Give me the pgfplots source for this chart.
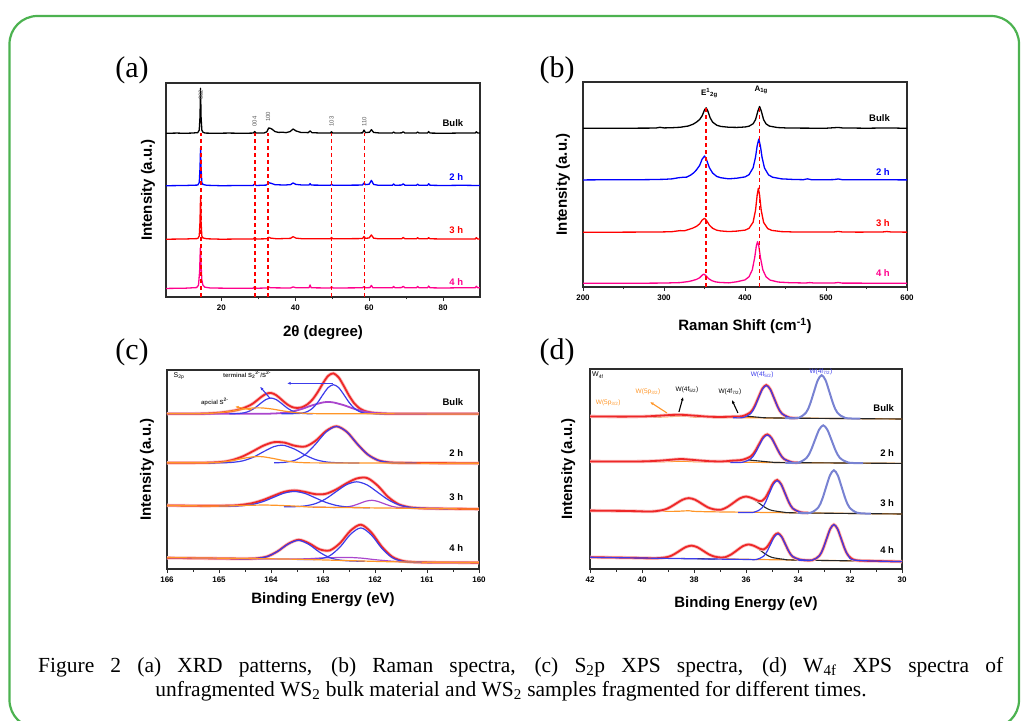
\documentclass[border=0pt]{standalone}
\usepackage{fontspec}
\setmainfont{Liberation Serif}
\newfontfamily\sansf{Liberation Sans}
\usepackage{pgfplots}
\pgfplotsset{compat=1.18}
\usetikzlibrary{arrows.meta}

\definecolor{boxgreen}{RGB}{76,178,80}
\definecolor{frame}{RGB}{45,45,45}
\definecolor{cblue}{RGB}{0,0,255}
\definecolor{cred}{RGB}{255,0,0}
\definecolor{cpink}{RGB}{255,0,140}
\definecolor{xred}{RGB}{238,40,40}
\definecolor{xblue}{RGB}{60,60,235}
\definecolor{xpurple}{RGB}{170,70,205}
\definecolor{xorange}{RGB}{255,150,40}
\definecolor{xlav}{RGB}{120,130,210}

\pgfplotsset{
  panel/.style={
    scale only axis, anchor=south west,
    ymin=0, ymax=100, ytick=\empty,
    xtick pos=bottom, tick align=outside,
    major tick length=4pt, minor tick length=2.5pt,
    minor x tick num=1,
    axis line style={line width=1.3pt, draw=frame},
    tick style={line width=0.9pt, draw=frame},
    /pgf/number format/assume math mode=true,
    tick label style={font=\sansf\bfseries\fontsize{8}{8}\selectfont},
    label style={font=\sansf\bfseries\fontsize{15}{16}\selectfont},
    ylabel={Intensity (a.u.)},
  },
  sp/.style={line width=1.3pt, line join=round},
  rdash/.style={cred, line width=1.7pt, dash pattern=on 4pt off 3pt},
  xr/.style={xred, line width=1.8pt, smooth, preaction={draw=xred!30, line width=3.4pt}},
  xb/.style={xblue, line width=1.2pt, smooth},
  xp/.style={xpurple, line width=1.2pt, smooth},
  xo/.style={xorange, line width=1.2pt, smooth},
  xk/.style={black!85, line width=1.1pt, smooth},
  xl/.style={xlav, line width=2pt, smooth},
}
\tikzset{
  lab/.style={font=\sansf\bfseries\fontsize{9.5}{10}\selectfont, anchor=east, inner sep=0pt},
  note/.style={font=\sansf\fontsize{6.5}{7}\selectfont, inner sep=0pt},
  arr/.style={line width=1.1pt, -{Latex[length=3.5pt,width=3pt]}},
}

\begin{document}
\begin{tikzpicture}
\useasboundingbox (0pt,0pt) rectangle (1024pt,720pt);
\draw[boxgreen, line width=2.2pt, rounded corners=28pt] (9.5pt,-8pt) rectangle (1019pt,704pt);

\node[font=\fontsize{30}{30}\selectfont] at (132pt,650pt) {(a)};
\node[font=\fontsize{30}{30}\selectfont] at (557pt,650pt) {(b)};
\node[font=\fontsize{30}{30}\selectfont] at (132pt,368pt) {(c)};
\node[font=\fontsize{30}{30}\selectfont] at (557pt,368pt) {(d)};

% ---------------- (a) XRD
\begin{axis}[panel, at={(166pt,423pt)}, width=314pt, height=214pt,
  xmin=5, xmax=90, xtick={20,40,60,80},
  xlabel={2θ (degree)},
  xlabel style={at={(axis description cs:0.5,-0.168)}, anchor=center},
  ylabel style={at={(axis description cs:-0.057,0.5)}, anchor=center}]
\addplot[sp, black] coordinates {(5,76.5)(8,76.6)(10,76.5)(12,76.6)(13.6,76.8)(14.0,78)(14.2,84)(14.35,97.5)(14.5,84)(14.7,78)(15.0,77)(15.6,76.6)(18,76.5)(22,76.6)(26,76.5)(28.6,76.6)(29.0,77.3)(29.4,76.6)(31.5,76.6)(32.3,77.2)(32.8,79.0)(33.3,78.8)(33.8,78.3)(34.5,77.3)(35.5,76.9)(36.5,77.0)(37.5,76.8)(38.6,77.3)(39.4,78.5)(40.2,77.6)(41.5,76.9)(43.5,76.8)(44.0,77.6)(44.5,76.8)(47,76.6)(49.5,76.6)(49.8,77.2)(50.1,76.6)(53,76.6)(56,76.6)(58.2,76.7)(58.6,78.0)(59.0,76.8)(60.1,77.0)(60.6,78.2)(61.2,76.9)(63,76.6)(66.3,76.6)(66.6,77.1)(67,76.6)(68.8,76.7)(69.2,77.2)(69.7,76.6)(72.8,76.6)(73.1,77.1)(73.5,76.6)(75.8,76.6)(76.1,77.3)(76.5,76.6)(80,76.5)(84,76.6)(88.7,76.6)(89.0,77.2)(89.4,76.6)(90,76.6)};
\addplot[sp, cblue] coordinates {(5,52)(10,52.1)(13.6,52.3)(14.0,53.5)(14.2,60)(14.35,69.6)(14.5,60)(14.7,53.5)(15.0,52.6)(16,52.2)(20,52)(25,52.1)(28.6,52.1)(29.0,52.9)(29.4,52.1)(32.2,52.3)(32.8,53.4)(33.5,53.1)(34.5,52.5)(37,52.3)(38.7,52.5)(39.4,53.3)(40.2,52.6)(42,52.3)(43.7,52.3)(44.0,53.0)(44.3,52.3)(49.5,52.2)(49.8,52.7)(50.2,52.2)(58.2,52.3)(58.6,53.3)(59.0,52.5)(60.0,52.7)(60.6,54.5)(61.2,52.6)(62.5,52.2)(66.3,52.2)(66.6,52.8)(67,52.2)(68.8,52.3)(69.2,52.9)(69.7,52.2)(72.8,52.2)(73.1,52.7)(73.5,52.2)(75.8,52.2)(76.1,52.9)(76.5,52.2)(80,52.1)(85,52.2)(90,52.1)};
\addplot[sp, cred] coordinates {(5,27)(10,27.1)(13.6,27.3)(14.0,28.5)(14.2,35)(14.35,46.9)(14.5,35)(14.7,28.5)(15.0,27.6)(16,27.2)(20,27)(25,27.1)(28.6,27.1)(29.0,27.8)(29.4,27.1)(32.3,27.2)(32.8,27.9)(33.4,27.5)(35,27.2)(38.7,27.4)(39.4,28.2)(40.2,27.5)(42,27.2)(49.5,27.2)(49.8,27.8)(50.2,27.2)(58.2,27.3)(58.6,28.3)(59.0,27.4)(60.0,27.6)(60.6,29.0)(61.2,27.5)(62.5,27.2)(68.8,27.2)(69.2,27.8)(69.7,27.2)(72.8,27.2)(73.1,27.7)(73.5,27.2)(75.8,27.2)(76.1,27.7)(76.5,27.2)(80,27.1)(88.7,27.1)(89.0,27.7)(89.4,27.1)(90,27.1)};
\addplot[sp, cpink] coordinates {(5,4)(10,4.1)(13.3,4.4)(13.8,5.5)(14.1,12)(14.3,22.9)(14.5,15)(14.7,8)(15.0,5.5)(15.5,4.6)(17,4.2)(22,4.1)(28.6,4.1)(29.0,4.8)(29.4,4.1)(32.4,4.2)(32.8,4.7)(33.3,4.3)(38.7,4.2)(39.4,4.7)(40.2,4.3)(43.7,4.3)(44.0,5.6)(44.3,4.3)(49.5,4.2)(49.8,4.8)(50.2,4.2)(58.2,4.3)(58.6,4.9)(59.0,4.3)(60.2,4.4)(60.6,5.4)(61.0,4.3)(66.3,4.3)(66.6,4.9)(67,4.3)(68.8,4.4)(69.2,5.0)(69.7,4.3)(72.8,4.3)(73.1,4.9)(73.5,4.3)(75.8,4.3)(76.1,5.1)(76.5,4.3)(80,4.2)(84,4.3)(88.7,4.3)(89.0,5.0)(89.4,4.3)(90,4.3)};
\addplot[rdash] coordinates {(14.4,0)(14.4,76.5)};
\addplot[rdash] coordinates {(29.0,0)(29.0,76.5)};
\addplot[rdash] coordinates {(32.6,0)(32.6,76.5)};
\addplot[rdash] coordinates {(49.8,0)(49.8,76.5)};
\addplot[rdash] coordinates {(58.7,0)(58.7,76.5)};
\node[lab, black] at (axis cs:85.5,81.3) {Bulk};
\node[lab, cblue] at (axis cs:85.5,56.1) {2 h};
\node[lab, cred] at (axis cs:85.5,31.3) {3 h};
\node[lab, cpink] at (axis cs:85.5,7.0) {4 h};
\node[note, black!65, font=\sansf\fontsize{6}{6}\selectfont, rotate=90, anchor=west] at (axis cs:14.4,92) {002};
\node[note, black!65, font=\sansf\fontsize{6}{6}\selectfont, rotate=90, anchor=west] at (axis cs:29.0,79.5) {004};
\node[note, black!65, font=\sansf\fontsize{6}{6}\selectfont, rotate=90, anchor=west] at (axis cs:32.6,81.8) {100};
\node[note, black!65, font=\sansf\fontsize{6}{6}\selectfont, rotate=90, anchor=west] at (axis cs:49.8,79.5) {103};
\node[note, black!65, font=\sansf\fontsize{6}{6}\selectfont, rotate=90, anchor=west] at (axis cs:58.7,79.5) {110};
\end{axis}

% ---------------- (b) Raman
\begin{axis}[panel, at={(583pt,433pt)}, width=324pt, height=205pt,
  xmin=200, xmax=600, xtick={200,300,400,500,600},
  xlabel={Raman Shift (cm\textsuperscript{-1})},
  xlabel style={at={(axis description cs:0.5,-0.189)}, anchor=center},
  ylabel style={at={(axis description cs:-0.062,0.5)}, anchor=center}]
\addplot[sp, black] coordinates {(200,77.42)(240,77.45)(280,77.5)(290,77.55)(295,77.9)(300,77.6)(310,77.7)(320,77.92)(330,78.53)(336,79.43)(340,80.4)(344,81.7)(347,83.45)(350,86.37)(352,87.4)(354,85.97)(357,82.5)(360,80.44)(365,78.93)(370,78.33)(380,77.92)(390,77.84)(400,78.05)(405,78.44)(410,79.62)(413,81.64)(416,85.96)(418,88.07)(420,85.94)(423,81.59)(426,79.57)(430,78.5)(440,77.78)(450,77.6)(470,77.5)(500,77.45)(510,77.7)(515,77.85)(520,77.6)(550,77.45)(578,77.6)(600,77.4)};
\addplot[sp, cblue] coordinates {(200,52.23)(230,52.3)(260,52.33)(280,52.37)(300,52.52)(310,52.75)(318,53.3)(323,53.5)(328,53.6)(333,54.6)(337,55.8)(340,57.1)(344,59.3)(347,62.3)(350,63.9)(352,62.6)(354,60.4)(356,58.2)(360,55.6)(365,53.95)(370,53.3)(380,52.76)(390,53.08)(400,53.7)(405,54.8)(410,58.14)(413,63.4)(415,68.85)(417,72.13)(419,68.8)(421,63.35)(424,58.1)(429,54.7)(434,53.55)(445,52.75)(460,52.45)(472,52.35)(477,52.75)(482,52.35)(500,52.3)(510,52.4)(515,52.7)(520,52.35)(545,52.28)(565,52.3)(580,52.35)(590,52.25)(600,52.25)};
\addplot[sp, cred] coordinates {(200,26.72)(240,26.74)(280,26.8)(300,26.88)(310,27.0)(316,27.3)(320,27.5)(325,27.4)(330,28.0)(335,28.64)(340,29.56)(344,30.8)(347,32.6)(350,33.5)(352,32.75)(354,31.46)(356,30.17)(360,28.67)(365,27.7)(370,27.35)(380,27.03)(390,27.27)(400,27.74)(405,28.61)(410,31.6)(413,37.5)(415,44.8)(416.5,48.2)(418,44.8)(420,37.4)(423,31.5)(428,28.5)(433,27.62)(445,27.02)(460,26.84)(480,26.8)(510,26.85)(515,27.1)(520,26.85)(540,26.76)(570,26.85)(575,27.05)(580,26.85)(600,26.75)};
\addplot[sp, cpink] coordinates {(200,1.81)(240,1.83)(280,1.87)(300,1.92)(320,2.15)(330,2.65)(335,3.1)(340,3.7)(344,4.5)(347,5.7)(349,6.3)(351,5.8)(353,4.95)(355,4.1)(359,3.1)(364,2.46)(369,2.23)(380,2.02)(390,2.55)(400,3.47)(405,5.0)(409,8.37)(412,14.45)(414,20.07)(415.5,22.1)(417,20.07)(419,14.45)(422,8.37)(426,4.95)(431,3.37)(441,2.41)(455,2.1)(475,1.95)(480,2.15)(485,1.95)(510,1.95)(515,2.2)(520,1.9)(550,1.87)(580,1.86)(600,1.85)};
\addplot[rdash] coordinates {(352,0)(352,88)};
\addplot[rdash] coordinates {(418,0)(418,88)};
\node[lab, black] at (axis cs:579,82.3) {Bulk};
\node[lab, cblue] at (axis cs:579,56.2) {2 h};
\node[lab, cred] at (axis cs:579,31.1) {3 h};
\node[lab, cpink] at (axis cs:579,7) {4 h};
\node[font=\sansf\bfseries\fontsize{8}{8}\selectfont, inner sep=0pt] at (axis cs:356,94.5) {E\textsuperscript{1}\textsubscript{2g}};
\node[font=\sansf\bfseries\fontsize{8}{8}\selectfont, inner sep=0pt] at (axis cs:420,96) {A\textsubscript{1g}};
\end{axis}

% ---------------- (c) S2p XPS
\begin{axis}[panel, at={(167pt,151pt)}, width=312pt, height=199pt,
  xmin=160, xmax=166, x dir=reverse, xtick={160,161,162,163,164,165,166},
  xlabel={Binding Energy (eV)},
  xlabel style={at={(axis description cs:0.5,-0.156)}, anchor=center},
  ylabel style={at={(axis description cs:-0.064,0.5)}, anchor=center}]
% Bulk
\addplot[xr] coordinates {(166,78)(165.4,78.05)(165.2,78.18)(165.0,78.52)(164.8,79.18)(164.6,80.24)(164.4,82.32)(164.3,84.1)(164.2,86.2)(164.1,87.97)(164.0,88.46)(163.9,87.36)(163.8,85.18)(163.7,82.95)(163.6,81.42)(163.5,80.91)(163.4,81.33)(163.3,82.74)(163.2,85.23)(163.1,88.96)(163.0,93.36)(162.9,97.08)(162.8,98.3)(162.7,96.31)(162.6,91.98)(162.5,87.18)(162.4,83.28)(162.3,80.8)(162.2,79.43)(162.1,78.75)(162.0,78.38)(161.8,78.09)(161.6,78.02)(160,78)};
\addplot[xp, line width=1.8pt] coordinates {(166,78)(164.2,78)(164.0,78.09)(163.8,78.36)(163.6,79.08)(163.4,80.48)(163.2,82.32)(163.0,83.7)(162.9,83.9)(162.8,83.7)(162.6,82.32)(162.4,80.48)(162.2,79.08)(162.0,78.36)(161.8,78.09)(161.5,78)(160,78)};
\addplot[xb] coordinates {(163.8,78)(163.5,78.1)(163.4,78.35)(163.3,79.11)(163.2,80.8)(163.1,83.78)(163.0,87.66)(162.9,91.18)(162.8,92.6)(162.7,91.18)(162.6,87.66)(162.5,83.78)(162.4,80.8)(162.3,79.11)(162.2,78.35)(162.1,78.1)(161.8,78)};
\addplot[xb] coordinates {(164.8,78)(164.7,78.05)(164.6,78.19)(164.5,78.6)(164.4,79.52)(164.3,81.13)(164.2,83.23)(164.1,85.13)(164.0,85.9)(163.9,85.13)(163.8,83.23)(163.7,81.13)(163.6,79.52)(163.5,78.6)(163.4,78.19)(163.3,78.05)(163.2,78)};
\addplot[xo] coordinates {(166,78)(165.4,78.05)(165.2,78.18)(165.0,78.52)(164.8,79.17)(164.6,80.05)(164.4,80.8)(164.2,80.97)(164.0,80.47)(163.8,79.59)(163.6,78.8)(163.4,78.31)(163.2,78.1)(163.0,78.03)(162.5,78)(160,77.9)};
% 2 h
\addplot[xr] coordinates {(166,53.35)(165.3,53.4)(164.94,53.82)(164.74,54.8)(164.54,56.64)(164.34,59.28)(164.14,62.05)(163.94,63.75)(163.74,63.49)(163.54,61.92)(163.34,61.57)(163.14,64.48)(162.94,69.37)(162.74,71.72)(162.54,68.86)(162.34,62.82)(162.14,57.55)(161.94,54.64)(161.74,53.61)(161.54,53.35)(161.34,53.3)(160,53.1)};
\addplot[xb] coordinates {(163.94,53.35)(163.74,53.61)(163.54,54.64)(163.34,57.55)(163.14,62.82)(162.94,68.86)(162.74,71.6)(162.54,68.86)(162.34,62.82)(162.14,57.55)(161.94,54.64)(161.74,53.61)(161.54,53.35)(161.2,53.3)};
\addplot[xb] coordinates {(165.2,53.3)(164.94,53.36)(164.74,53.6)(164.54,54.37)(164.34,56.19)(164.14,59.0)(163.94,61.55)(163.8,62.2)(163.74,62.08)(163.54,60.17)(163.34,57.22)(163.14,54.96)(162.94,53.81)(162.74,53.42)(162.54,53.32)(162.3,53.3)};
\addplot[xo] coordinates {(166,53.35)(165.2,53.38)(164.94,53.76)(164.74,54.5)(164.54,55.57)(164.34,56.39)(164.25,56.5)(164.14,56.35)(163.94,55.45)(163.74,54.4)(163.54,53.71)(163.34,53.4)(163.14,53.32)(162.5,53.3)(160,53.1)};
% 3 h
\addplot[xr] coordinates {(166,31.95)(165.3,31.75)(164.75,31.9)(164.55,32.31)(164.35,33.15)(164.15,34.69)(163.95,36.78)(163.75,38.73)(163.55,39.49)(163.35,38.76)(163.15,37.63)(162.95,37.76)(162.75,39.91)(162.55,43.01)(162.35,45.49)(162.15,45.72)(161.95,41.93)(161.75,36.27)(161.55,32.59)(161.35,31.09)(161.15,30.59)(160.95,30.42)(160,30.1)};
\addplot[xp] coordinates {(163.2,31.06)(162.72,30.96)(162.5,31.37)(162.39,32.06)(162.28,33.09)(162.17,34.1)(162.06,34.52)(161.95,34.0)(161.84,32.97)(161.73,31.92)(161.62,31.18)(161.4,30.7)(160.5,30.25)};
\addplot[xb] coordinates {(163.75,31.23)(163.55,31.31)(163.35,31.68)(163.15,32.81)(162.95,35.22)(162.75,38.82)(162.55,42.34)(162.35,43.81)(162.15,42.22)(161.95,38.58)(161.75,34.86)(161.55,32.33)(161.35,31.08)(161.15,30.59)(160.95,30.42)(160.6,30.3)};
\addplot[xb] coordinates {(165.0,31.6)(164.75,31.62)(164.55,31.82)(164.35,32.47)(164.15,33.89)(163.95,36.02)(163.75,38.11)(163.55,38.97)(163.35,37.99)(163.15,35.78)(162.95,33.53)(162.75,31.99)(162.55,31.22)(162.35,30.9)(162.1,30.78)};
\addplot[xo] coordinates {(166,31.9)(165.0,31.65)(164.6,31.9)(164.1,32.13)(163.6,31.7)(163.2,31.1)(162.5,30.85)(160,30.1)};
% 4 h
\addplot[xr] coordinates {(166,5.6)(165.2,5.35)(164.67,5.2)(164.47,5.19)(164.27,5.37)(164.07,6.31)(163.87,8.94)(163.67,12.65)(163.47,14.68)(163.27,12.95)(163.07,9.92)(162.87,9.34)(162.67,13.07)(162.47,19.28)(162.27,22.27)(162.07,18.34)(161.87,11.26)(161.67,6.17)(161.47,4.09)(161.27,3.5)(161.07,3.33)(160,3.2)};
\addplot[xp] coordinates {(166,5.6)(164.5,5.15)(164.0,5.02)(163.5,5.04)(163.25,5.21)(163.0,5.59)(162.75,5.74)(162.5,5.8)(162.25,5.44)(162.0,4.69)(161.75,4.09)(161.5,3.64)(161.0,3.32)(160,3.2)};
\addplot[xb] coordinates {(163.5,4.8)(163.27,4.72)(163.07,5.03)(162.87,6.67)(162.67,11.1)(162.47,17.44)(162.27,20.65)(162.07,17.09)(161.87,10.45)(161.67,5.72)(161.47,3.88)(161.27,3.42)(160.9,3.3)};
\addplot[xb] coordinates {(164.8,5.25)(164.47,5.19)(164.27,5.37)(164.07,6.3)(163.87,8.9)(163.67,12.53)(163.47,14.4)(163.27,12.33)(163.07,8.5)(162.87,5.7)(162.67,4.47)(162.47,4.04)(162.2,3.85)};
\addplot[xo] coordinates {(166,5.7)(164.5,5.3)(163.5,4.9)(162.5,4.2)(161.5,3.55)(160,3.25)};
\node[lab] at (axis cs:160.3,84) {Bulk};
\node[lab] at (axis cs:160.3,58.1) {2 h};
\node[lab] at (axis cs:160.3,36.3) {3 h};
\node[lab] at (axis cs:160.3,10.4) {4 h};
\node[note, font=\sansf\fontsize{7}{7}\selectfont] at (axis cs:165.77,97) {S\textsubscript{2p}};
\node[note, font=\sansf\bfseries\fontsize{6}{6}\selectfont, black!80] at (axis cs:164.46,97.5) {terminal S\textsubscript{2}\textsuperscript{2-}/S\textsuperscript{2-}};
\node[note, font=\sansf\bfseries\fontsize{6}{6}\selectfont, black!80] at (axis cs:165.08,83.9) {apcial S\textsuperscript{2-}};
\draw[arr, xblue] (axis cs:164.02,85.8) -- (axis cs:164.21,91.6);
\draw[arr, xblue] (axis cs:162.81,93.3) -- (axis cs:163.69,93.3);
\draw[arr, xorange] (axis cs:164.37,79.9) -- (axis cs:164.69,81.6);
\end{axis}

% ---------------- (d) W4f XPS
\begin{axis}[panel, at={(590pt,151pt)}, width=312pt, height=200pt,
  xmin=30, xmax=42, x dir=reverse, xtick={30,32,34,36,38,40,42},
  xlabel={Binding Energy (eV)},
  xlabel style={at={(axis description cs:0.5,-0.172)}, anchor=center},
  ylabel style={at={(axis description cs:-0.07,0.5)}, anchor=center}]
% Bulk
\addplot[xo] coordinates {(42,76.25)(39.5,76.0)(38.4,76.45)(37.3,75.8)(30,75.0)};
\addplot[xk] coordinates {(42,76.2)(40,76.0)(39.2,76.3)(38.6,76.86)(38.0,76.3)(37.2,75.75)(36.5,75.9)(36.0,76.4)(35.5,75.85)(34.8,75.5)(30,75.0)};
\addplot[xr] coordinates {(42,76.3)(41,76.2)(40,76.25)(39.4,76.6)(38.9,77.0)(38.5,77.1)(38.0,76.7)(37.5,76.2)(37.0,76.0)(36.5,76.2)(36.12,76.48)(35.82,78.46)(35.67,81.43)(35.52,85.85)(35.37,90.17)(35.22,91.96)(35.07,89.96)(34.92,85.43)(34.77,80.83)(34.62,77.71)(34.32,75.7)(34.0,75.5)};
\addplot[xb] coordinates {(36.5,75.65)(36.12,75.7)(35.82,77.71)(35.67,80.79)(35.52,85.35)(35.37,89.81)(35.22,91.72)(35.07,89.81)(34.92,85.35)(34.77,80.79)(34.62,77.71)(34.32,75.7)(34.0,75.42)};
\addplot[xl] coordinates {(34.5,75.45)(33.99,75.55)(33.69,78.23)(33.54,82.33)(33.39,88.42)(33.24,94.36)(33.09,96.91)(32.94,94.36)(32.79,88.42)(32.64,82.33)(32.49,78.23)(32.19,75.55)(31.6,75.16)};
% 2 h
\addplot[xo] coordinates {(42,53.75)(39.5,53.6)(38.4,53.9)(37.3,53.5)(30,52.8)};
\addplot[xk] coordinates {(42,53.7)(40.5,53.6)(39.7,53.8)(39.1,54.3)(38.5,54.95)(37.9,54.3)(37.3,53.7)(36.8,53.6)(36.4,54.1)(36.0,54.55)(35.5,54.0)(35.0,53.4)(34.5,53.2)(30,52.8)};
\addplot[xr] coordinates {(42,53.8)(41,53.75)(40,53.8)(39.4,54.1)(38.9,54.6)(38.5,55.0)(38.0,54.5)(37.4,53.9)(36.9,53.8)(36.5,54.2)(36.14,54.59)(35.82,56.27)(35.66,58.7)(35.50,62.36)(35.34,65.91)(35.18,67.33)(35.02,65.55)(34.86,61.66)(34.70,57.71)(34.54,55.05)(34.22,53.34)(34.0,53.25)};
\addplot[xb] coordinates {(36.6,53.3)(36.14,53.34)(35.82,55.05)(35.66,57.67)(35.50,61.57)(35.34,65.36)(35.18,66.99)(35.02,65.36)(34.86,61.57)(34.70,57.67)(34.54,55.05)(34.22,53.34)(33.9,53.1)};
\addplot[xl] coordinates {(34.5,53.15)(33.99,53.24)(33.67,55.57)(33.51,59.14)(33.35,64.44)(33.19,69.61)(33.03,71.83)(32.87,69.61)(32.71,64.44)(32.55,59.14)(32.39,55.57)(32.07,53.24)(31.5,52.9)};
% 3 h
\addplot[xo] coordinates {(42,29.2)(39,28.8)(38.2,29.1)(37.3,28.6)(30,27.5)};
\addplot[xk] coordinates {(42,29.18)(40.5,28.97)(39.64,28.72)(39.16,29.57)(38.92,30.86)(38.68,32.78)(38.44,34.65)(38.2,35.45)(37.96,34.65)(37.72,32.78)(37.48,30.86)(37.24,29.85)(36.96,29.65)(36.72,30.97)(36.48,33.14)(36.24,35.31)(36.0,36.24)(35.76,35.31)(35.52,33.14)(35.28,30.91)(35.04,29.41)(34.56,28.43)(34.0,28.06)(30,27.5)};
\addplot[xr] coordinates {(42,29.2)(40.5,29.0)(39.64,28.75)(39.16,29.6)(38.92,30.9)(38.68,32.8)(38.44,34.65)(38.2,35.45)(37.96,34.65)(37.72,32.8)(37.48,30.9)(37.24,29.85)(36.96,29.65)(36.72,30.97)(36.48,33.14)(36.24,35.31)(36.0,36.24)(35.76,35.41)(35.52,34.04)(35.4,33.98)(35.25,35.74)(35.1,39.26)(34.95,43.02)(34.8,44.52)(34.65,42.41)(34.5,37.9)(34.35,33.33)(34.2,30.25)(33.9,28.35)(33.6,28.1)};
\addplot[xb] coordinates {(36.3,28.3)(35.7,28.35)(35.4,30.33)(35.25,33.37)(35.1,37.88)(34.95,42.28)(34.8,44.17)(34.65,42.28)(34.5,37.88)(34.35,33.37)(34.2,30.33)(33.9,28.35)(33.5,28.1)};
\addplot[xl] coordinates {(34.0,28.06)(33.52,28.11)(33.22,30.77)(33.07,34.86)(32.92,40.92)(32.77,46.83)(32.62,49.37)(32.47,46.83)(32.32,40.92)(32.17,34.86)(32.02,30.77)(31.72,28.11)(31.2,27.7)};
% 4 h
\addplot[xo] coordinates {(42,5.95)(40,5.6)(39.45,5.45)(39.0,6.06)(38.775,7.29)(38.55,9.13)(38.325,10.91)(38.1,11.68)(37.875,10.91)(37.65,9.13)(37.425,7.29)(37.2,6.06)(36.75,5.25)(36,4.85)(30,3.75)};
\addplot[xk] coordinates {(38.5,5.25)(37.6,5.1)(37.25,4.96)(36.8,5.79)(36.575,7.22)(36.35,9.33)(36.125,11.4)(35.9,12.28)(35.675,11.4)(35.45,9.33)(35.225,7.22)(35.0,5.79)(34.55,4.86)(34.0,4.45)(30,3.75)};
\addplot[xr] coordinates {(42,5.9)(40.5,5.63)(39.45,5.4)(39.0,6.06)(38.775,7.29)(38.55,9.13)(38.325,10.91)(38.1,11.68)(37.875,10.91)(37.65,9.13)(37.425,7.29)(37.2,6.17)(36.95,5.73)(36.8,5.89)(36.575,7.24)(36.35,9.33)(36.125,11.4)(35.9,12.28)(35.675,11.48)(35.45,10.01)(35.33,9.78)(35.19,11.03)(35.05,13.77)(34.91,16.74)(34.77,17.89)(34.63,16.16)(34.49,12.47)(34.35,8.73)(34.21,6.24)(33.93,4.71)(33.46,4.38)(33.18,6.61)(33.04,10.03)(32.9,15.11)(32.76,20.06)(32.62,22.18)(32.48,20.06)(32.34,15.11)(32.2,10.03)(32.06,6.61)(31.78,4.38)(31,4.0)(30,3.7)};
\addplot[xb] coordinates {(42,5.85)(39.5,5.4)(38,5.1)(36.0,4.78)(35.61,4.71)(35.33,6.33)(35.19,8.8)(35.05,12.46)(34.91,16.04)(34.77,17.57)(34.63,16.04)(34.49,12.46)(34.35,8.8)(34.21,6.33)(33.93,4.71)(33.5,4.35)};
\addplot[xb] coordinates {(34.0,4.45)(33.46,4.38)(33.18,6.61)(33.04,10.03)(32.9,15.11)(32.76,20.06)(32.62,22.18)(32.48,20.06)(32.34,15.11)(32.2,10.03)(32.06,6.61)(31.78,4.38)(30,3.7)};
\node[lab] at (axis cs:30.3,80.3) {Bulk};
\node[lab] at (axis cs:30.3,57.8) {2 h};
\node[lab] at (axis cs:30.3,32.8) {3 h};
\node[lab] at (axis cs:30.3,9.5) {4 h};
\node[note, font=\sansf\fontsize{7}{7}\selectfont] at (axis cs:41.7,97) {W\textsubscript{4f}};
\node[note, xorange] at (axis cs:41.3,83) {W(5p\textsubscript{3/2})};
\node[note, xorange] at (axis cs:39.77,88.5) {W(5p\textsubscript{3/2})};
\node[note, black] at (axis cs:38.27,89.5) {W(4f\textsubscript{5/2})};
\node[note, black] at (axis cs:36.62,88.5) {W(4f\textsubscript{7/2})};
\node[note, xblue] at (axis cs:35.38,97) {W(4f\textsubscript{5/2})};
\node[note, xblue] at (axis cs:33.12,98.5) {W(4f\textsubscript{7/2})};
\draw[arr, xorange] (axis cs:39.04,78) -- (axis cs:39.69,83.5);
\draw[arr, black] (axis cs:38.58,78.5) -- (axis cs:38.42,86);
\draw[arr, black] (axis cs:36.31,78) -- (axis cs:36.54,84.5);
\end{axis}

% caption
\node[anchor=base west, inner sep=0pt, font=\fontsize{21.5}{25}\selectfont] at (38pt,48pt)
  {\makebox[965pt][s]{Figure 2 (a) XRD patterns, (b) Raman spectra, (c) S\textsubscript{2}p XPS spectra, (d) W\textsubscript{4f} XPS spectra of}};
\node[anchor=base, inner sep=0pt, font=\fontsize{21.5}{25}\selectfont] at (511pt,24pt)
  {unfragmented WS\textsubscript{2} bulk material and WS\textsubscript{2} samples fragmented for different times.};
\end{tikzpicture}
\end{document}
